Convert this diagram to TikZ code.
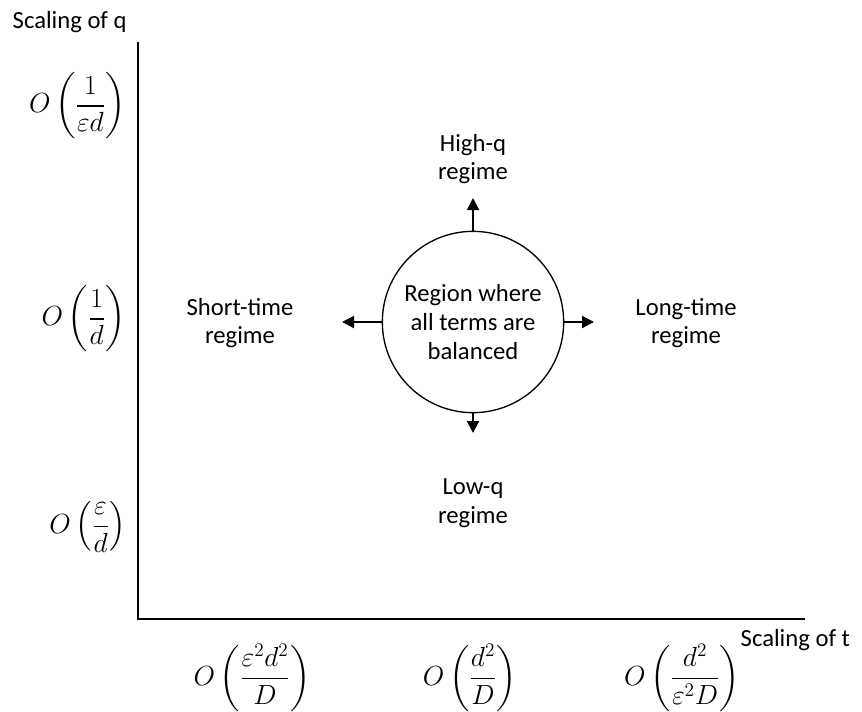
\documentclass[tikz,border=0pt]{standalone}
\usepackage{amsmath}
\usepackage{fontspec}
\setmainfont{Carlito}
\usetikzlibrary{arrows.meta, positioning}

\tikzset{
    regime/.style={align=center, font=\fontsize{18.5}{21.5}\selectfont},
    scl/.style={font=\fontsize{21}{24}\selectfont, inner sep=0pt},
    axis/.style={line width=1pt},
    push/.style={-{Triangle[length=9pt, width=9pt]}, line width=1.5pt}
}

\begin{document}
\begin{tikzpicture}[x=0.75pt, y=-0.75pt]
    \useasboundingbox (0,0) rectangle (862,711);

    % Axes
    \coordinate (top) at (138,42);
    \coordinate (orig) at (138,619);
    \coordinate (tend) at (805,619);
    \draw[axis] (top) -- (orig) -- (tend);
    \node[regime, anchor=west] (qname) at (8,22) {Scaling of q};
    \node[regime, anchor=west] (tname) at (736,640) {Scaling of t};

    % Scales of q
    \node[scl, anchor=east] (q1) at (126,106) {$O\left(\dfrac{1}{\varepsilon d}\right)$};
    \node[scl, anchor=east] (q2) at (126,319) {$O\left(\dfrac{1}{d}\right)$};
    \node[scl, anchor=east] (q3) at (126,527) {$O\left(\dfrac{\varepsilon}{d}\right)$};

    % Scales of t
    \node[scl] (t1) at (252,678) {$O\left(\dfrac{\varepsilon^2 d^2}{D}\right)$};
    \node[scl] (t2) at (470,678) {$O\left(\dfrac{d^2}{D}\right)$};
    \node[scl] (t3) at (682,678) {$O\left(\dfrac{d^2}{\varepsilon^2 D}\right)$};

    % Balanced region and the four regimes
    \node[circle, draw, regime, minimum size=136pt, inner sep=0pt, line width=1pt] (bal) at (473,322) {Region where\\all terms are\\balanced};
    \node[regime] (hi) at (473,159) {High-q\\regime};
    \node[regime] (lo) at (473,503) {Low-q\\regime};
    \node[regime] (st) at (240,323) {Short-time\\regime};
    \node[regime] (lt) at (686,323) {Long-time\\regime};

    \coordinate (hiend) at (473,198);
    \coordinate (loend) at (473,433);
    \coordinate (stend) at (342,322);
    \coordinate (ltend) at (594,322);
    \draw[push] (bal.north) -- (hiend);
    \draw[push] (bal.south) -- (loend);
    \draw[push] (bal.west) -- (stend);
    \draw[push] (bal.east) -- (ltend);
\end{tikzpicture}
\end{document}
